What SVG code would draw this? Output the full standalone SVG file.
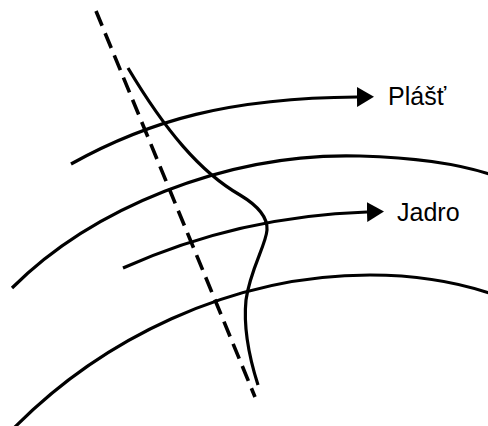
<svg xmlns="http://www.w3.org/2000/svg" width="488" height="426" viewBox="0 0 488 426">
<style>
.ln{fill:none;stroke:#000;stroke-width:3.2;stroke-linecap:butt}
.dash{fill:none;stroke:#000;stroke-width:3.6;stroke-dasharray:16 8}
.lbl{font-family:"Liberation Sans",Arial,sans-serif;font-size:25px;fill:#000}
</style>
<defs>
<marker id="ah" markerUnits="userSpaceOnUse" markerWidth="18" markerHeight="20" refX="0" refY="10" orient="auto" viewBox="0 0 18 20">
<path d="M0,0 L17,10 L0,20 z" fill="#000"/>
</marker>
</defs>
<rect width="488" height="426" fill="#fff"/>
<g id="connectors">
<path id="shell-boundary" class="ln" d="M12,288 C90,210 225,152 360,156 C420,157.8 460,164 492,175"/>
<path id="core-boundary" class="ln" d="M12,430 C100,340 230,275 370,275 C420,275 460,283 492,294"/>
<path id="profile" class="ln" d="M128,68 C165,130 200,172 240,195 C255,204 268,215 267,230 C266,245 250,270 246,300 C243,330 250,360 258,385"/>
<path id="axis" class="dash" d="M96,11 L255,397"/>
</g>
<g id="plast">
<path class="ln" d="M71,164 C150,120 230,98 357,97" marker-end="url(#ah)"/>
<text class="lbl" x="388" y="105">Plášť</text>
</g>
<g id="jadro">
<path class="ln" d="M123,268 C190,238 270,215 367,212" marker-end="url(#ah)"/>
<text class="lbl" x="397" y="221">Jadro</text>
</g>
</svg>
